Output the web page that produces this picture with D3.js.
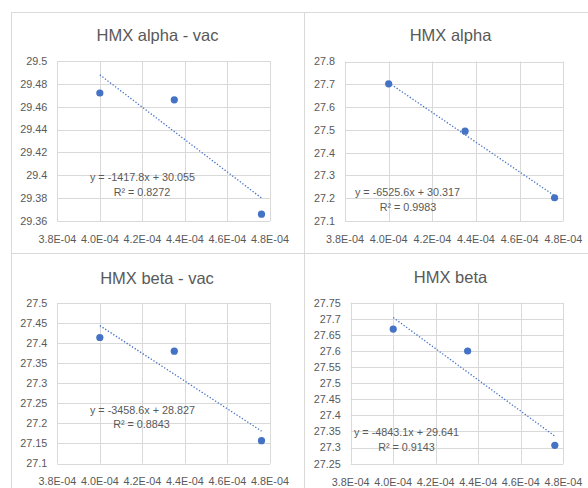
<!DOCTYPE html>
<html><head><meta charset="utf-8">
<script src="https://cdn.jsdelivr.net/npm/d3@7"></script>
<style>html,body{margin:0;padding:0;background:#fff;}svg{display:block;}</style>
</head><body>
<script>
// ---- data ----
const titles = ["HMX alpha - vac", "HMX alpha", "HMX beta - vac", "HMX beta"];
const xValues = [4.0e-4, 4.35e-4, 4.76e-4];
const alphaVac = [29.472, 29.466, 29.366];
const alpha = [27.702, 27.494, 27.202];
const betaVac = [27.414, 27.380, 27.157];
const beta = [27.668, 27.600, 27.307];
const slopes = [-1417.8, -6525.6, -3458.6, -4843.1];
const intercepts = [30.055, 30.317, 28.827, 29.641];
const rSquared = ["0.8272", "0.9983", "0.8843", "0.9143"];
const xTicks = [3.8e-4, 4.0e-4, 4.2e-4, 4.4e-4, 4.6e-4, 4.8e-4];
const xTickLabels = ["3.8E-04", "4.0E-04", "4.2E-04", "4.4E-04", "4.6E-04", "4.8E-04"];
const yTicksAlphaVac = [29.36, 29.38, 29.4, 29.42, 29.44, 29.46, 29.48, 29.5];
const yLabelsAlphaVac = ["29.36", "29.38", "29.4", "29.42", "29.44", "29.46", "29.48", "29.5"];
const yTicksAlpha = [27.1, 27.2, 27.3, 27.4, 27.5, 27.6, 27.7, 27.8];
const yLabelsAlpha = ["27.1", "27.2", "27.3", "27.4", "27.5", "27.6", "27.7", "27.8"];
const yTicksBetaVac = [27.1, 27.15, 27.2, 27.25, 27.3, 27.35, 27.4, 27.45, 27.5];
const yLabelsBetaVac = ["27.1", "27.15", "27.2", "27.25", "27.3", "27.35", "27.4", "27.45", "27.5"];
const yTicksBeta = [27.25, 27.3, 27.35, 27.4, 27.45, 27.5, 27.55, 27.6, 27.65, 27.7, 27.75];
const yLabelsBeta = ["27.25", "27.3", "27.35", "27.4", "27.45", "27.5", "27.55", "27.6", "27.65", "27.7", "27.75"];

const seriesList = [alphaVac, alpha, betaVac, beta];
const yTickList = [yTicksAlphaVac, yTicksAlpha, yTicksBetaVac, yTicksBeta];
const yLabelList = [yLabelsAlphaVac, yLabelsAlpha, yLabelsBetaVac, yLabelsBeta];

// ---- layout ----
const layout = [
  {box:[11,12,293,241], plot:{l:57.3,r:270,t:61,b:221}, title:[157.5,35], eq:[[142.5,176.7],[142,192]]},
  {box:[304,12,293,241], plot:{l:345,r:563.3,t:61.5,b:221}, title:[450.5,35], eq:[[407.5,192.5],[408,207.5]]},
  {box:[11,253,293,241], plot:{l:57.3,r:270,t:303,b:463.5}, title:[157,278], eq:[[142.5,410],[141.5,424.5]]},
  {box:[304,253,293,241], plot:{l:350.7,r:563.3,t:302.7,b:463.7}, title:[450.5,277], eq:[[406.5,431.7],[406.5,447]]}
];

const FONT = "'Liberation Sans', Arial, sans-serif";
const TXT = "#595959", GRID = "#d9d9d9", BLUE = "#4472c4";

const svg = d3.select("body").append("svg").attr("width", 588).attr("height", 488);

layout.forEach((L, i) => {
  const g = svg.append("g");
  // chart border
  g.append("rect").attr("x", L.box[0] + 0.5).attr("y", L.box[1] + 0.5)
    .attr("width", L.box[2]).attr("height", L.box[3])
    .attr("fill", "#fff").attr("stroke", GRID).attr("stroke-width", 1);
});

layout.forEach((L, i) => {
  const g = svg.append("g");
  const p = L.plot;
  const yt = yTickList[i];
  const x = d3.scaleLinear().domain([xTicks[0], xTicks[xTicks.length - 1]]).range([p.l, p.r]);
  const y = d3.scaleLinear().domain([yt[0], yt[yt.length - 1]]).range([p.b, p.t]);

  // title
  g.append("text").attr("x", L.title[0]).attr("y", L.title[1]).attr("dy", "0.35em")
    .attr("text-anchor", "middle").attr("font-family", FONT).attr("font-size", 16.5)
    .attr("fill", TXT).text(titles[i]);

  // gridlines
  g.append("g").selectAll("line.h").data(yt).join("line")
    .attr("x1", p.l).attr("x2", p.r)
    .attr("y1", d => Math.round(y(d)) + 0.5).attr("y2", d => Math.round(y(d)) + 0.5)
    .attr("stroke", GRID).attr("stroke-width", 1);
  g.append("g").selectAll("line.v").data(xTicks).join("line")
    .attr("y1", p.t).attr("y2", p.b)
    .attr("x1", d => Math.round(x(d)) + 0.5).attr("x2", d => Math.round(x(d)) + 0.5)
    .attr("stroke", GRID).attr("stroke-width", 1);

  // y tick labels
  g.append("g").selectAll("text").data(yt).join("text")
    .attr("x", p.l - 10).attr("y", d => y(d)).attr("dy", "0.36em")
    .attr("text-anchor", "end").attr("font-family", FONT).attr("font-size", 10.8)
    .attr("fill", TXT).text((d, j) => yLabelList[i][j]);

  // x tick labels
  g.append("g").selectAll("text").data(xTicks).join("text")
    .attr("x", d => x(d)).attr("y", p.b + 18).attr("dy", "0.36em")
    .attr("text-anchor", "middle").attr("font-family", FONT).attr("font-size", 10.8)
    .attr("fill", TXT).text((d, j) => xTickLabels[j]);

  // trendline
  const x0 = xValues[0], x1 = xValues[xValues.length - 1];
  g.append("line")
    .attr("x1", x(x0)).attr("y1", y(slopes[i] * x0 + intercepts[i]))
    .attr("x2", x(x1)).attr("y2", y(slopes[i] * x1 + intercepts[i]))
    .attr("stroke", BLUE).attr("stroke-width", 1.3)
    .attr("stroke-dasharray", "1.3 1.9");

  // points
  g.append("g").selectAll("circle").data(seriesList[i]).join("circle")
    .attr("cx", (d, j) => x(xValues[j])).attr("cy", d => y(d)).attr("r", 3.6)
    .attr("fill", BLUE);

  // equation labels
  const eqText = [`y = ${slopes[i]}x + ${intercepts[i]}`, `R² = ${rSquared[i]}`];
  g.append("g").selectAll("text").data(eqText).join("text")
    .attr("x", (d, j) => L.eq[j][0]).attr("y", (d, j) => L.eq[j][1]).attr("dy", "0.36em")
    .attr("text-anchor", "middle").attr("font-family", FONT).attr("font-size", 10.8)
    .attr("fill", TXT).text(d => d.replace("-", "-"));
});
</script>
</body></html>
